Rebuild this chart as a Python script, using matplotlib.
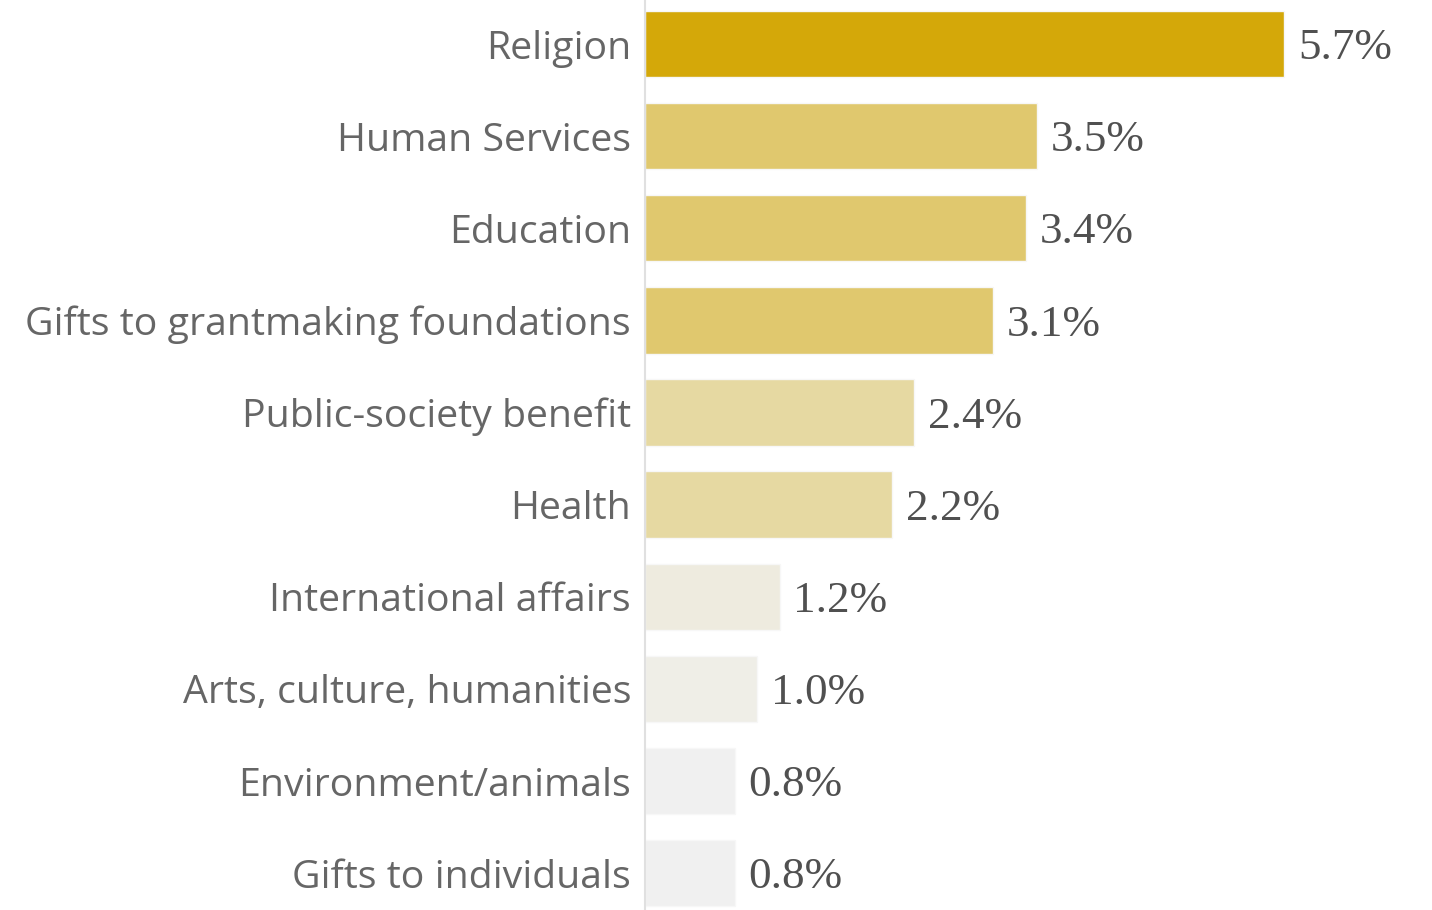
import matplotlib.pyplot as plt

categories = [
    "Religion",
    "Human Services",
    "Education",
    "Gifts to grantmaking foundations",
    "Public-society benefit",
    "Health",
    "International affairs",
    "Arts, culture, humanities",
    "Environment/animals",
    "Gifts to individuals",
]
values = [5.7, 3.5, 3.4, 3.1, 2.4, 2.2, 1.2, 1.0, 0.8, 0.8]
value_labels = ["5.7%", "3.5%", "3.4%", "3.1%", "2.4%", "2.2%", "1.2%", "1.0%", "0.8%", "0.8%"]
colors = ["#D4A809", "#E0C86E", "#E0C86E", "#E0C86E", "#E6D9A2",
          "#E6D9A2", "#EEEBDF", "#EFEEE7", "#F0F0F0", "#F0F0F0"]

W, H = 1432, 910
fig = plt.figure(figsize=(W / 100, H / 100), dpi=100)
ax = fig.add_axes([645 / W, 0, 1 - 645 / W, 1])

ypos = list(range(len(categories)))
ax.barh(ypos, values, height=0.72, color=colors, edgecolor="#f7f7f7", linewidth=1)

# value labels to the right of each bar
for y, v, lab in zip(ypos, values, value_labels):
    ax.annotate(lab, (v, y), xytext=(10, -3), textcoords="offset points",
                va="center", ha="left", fontsize=32.5, color="#505050",
                family="Liberation Serif")

ax.set_xlim(0, 787 / 112.1)
ax.set_ylim(9.40, -0.478)
ax.set_yticks(ypos)
ax.set_yticklabels(categories, fontsize=28.3, color="#666666", family="Open Sans")
ax.tick_params(axis="y", length=0, pad=10)
ax.set_xticks([])
for s in ["top", "right", "bottom"]:
    ax.spines[s].set_visible(False)
ax.spines["left"].set_color("#e0e0e0")
ax.spines["left"].set_linewidth(1.5)

fig.savefig("out.png", dpi=100)
